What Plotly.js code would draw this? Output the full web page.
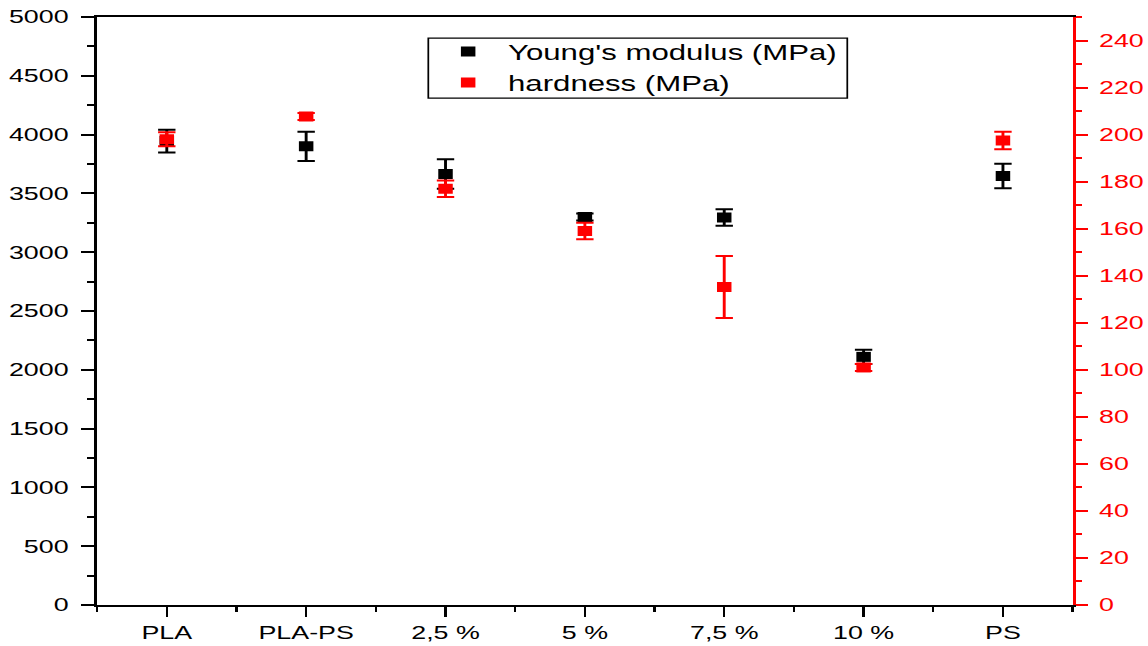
<!DOCTYPE html>
<html><head><meta charset="utf-8">
<script src="https://cdn.plot.ly/plotly-3.0.1.min.js"></script>
<style>
body{margin:0;background:#fff}
#wrap{width:1148px;height:646px;overflow:hidden;position:relative}
#chart{width:792px;height:646px;transform:scaleX(1.4495);transform-origin:0 0}
</style>
</head><body><div id="wrap"><div id="chart"></div></div>
<script>
const categories = ["PLA", "PLA-PS", "2,5 %", "5 %", "7,5 %", "10 %", "PS"];
const youngModulus = [3945, 3900, 3665, 3300, 3295, 2110, 3648];
const youngErr = [97, 125, 125, 30, 70, 60, 105];
const hardness = [198, 207.7, 177, 159, 135.2, 101, 197.5];
const hardnessErr = [3, 1.5, 3.5, 3.5, 13.2, 1.5, 3.7];

const xIdx = categories.map((c, i) => i);
const font = "Liberation Sans, Arial, sans-serif";

const traces = [
  {
    x: xIdx, y: youngModulus, type: "scatter", mode: "markers",
    name: "Young's modulus (MPa)",
    marker: {symbol: "square", size: 10, color: "#000"},
    error_y: {type: "data", array: youngErr, visible: true, color: "#000", thickness: 2, width: 6},
    yaxis: "y"
  },
  {
    x: xIdx, y: hardness, type: "scatter", mode: "markers",
    name: "hardness (MPa)",
    marker: {symbol: "square", size: 10, color: "#ff0000"},
    error_y: {type: "data", array: hardnessErr, visible: true, color: "#ff0000", thickness: 2, width: 6},
    yaxis: "y2"
  }
];

const layout = {
  width: 792, height: 646,
  margin: {l: 67, r: 52, t: 17, b: 41},
  paper_bgcolor: "#fff", plot_bgcolor: "#fff",
  font: {family: font, color: "#000", size: 18.5},
  showlegend: true,
  legend: {
    x: 0.3395, y: 0.976, xanchor: "left", yanchor: "top",
    borderwidth: 0, bgcolor: "rgba(0,0,0,0)",
    font: {family: font, size: 21.5, color: "#000"},
    itemwidth: 45, tracegroupgap: 0
  },
  shapes: [{
    type: "rect", xref: "paper", yref: "paper",
    x0: 0.3395, x1: 0.769, y0: 0.862, y1: 0.964,
    line: {color: "#000", width: 1.2}, fillcolor: "rgba(0,0,0,0)", layer: "above"
  }],
  xaxis: {
    range: [-0.5, 6.5],
    tickmode: "array", tickvals: xIdx, ticktext: categories,
    showgrid: false, zeroline: false,
    showline: true, linecolor: "#000", linewidth: 2, mirror: true,
    ticks: "outside", ticklen: 10, tickwidth: 1.6, tickcolor: "#000",
    tickfont: {family: font, size: 18.5, color: "#000"},
    minor: {tickmode: "linear", tick0: -0.5, dtick: 1, ticks: "outside", ticklen: 5, tickwidth: 1.6, tickcolor: "#000", showgrid: false}
  },
  yaxis: {
    range: [0, 5000], dtick: 500, tick0: 0,
    showgrid: false, zeroline: false,
    showline: true, linecolor: "#000", linewidth: 2,
    ticks: "outside", ticklen: 9, tickwidth: 2, tickcolor: "#000",
    ticklabelstandoff: 5,
    tickfont: {family: font, size: 18.5, color: "#000"},
    minor: {dtick: 250, ticks: "outside", ticklen: 5, tickwidth: 2, tickcolor: "#000", showgrid: false}
  },
  yaxis2: {
    overlaying: "y", side: "right",
    range: [0, 250], dtick: 20, tick0: 0,
    showgrid: false, zeroline: false,
    showline: true, linecolor: "#ff0000", linewidth: 2,
    ticks: "outside", ticklen: 8.5, tickwidth: 2, tickcolor: "#ff0000",
    ticklabelstandoff: 4,
    tickfont: {family: font, size: 18.5, color: "#ff0000"},
    minor: {dtick: 10, ticks: "outside", ticklen: 4.5, tickwidth: 2, tickcolor: "#ff0000", showgrid: false}
  }
};

Plotly.newPlot("chart", traces, layout, {displayModeBar: false, staticPlot: true});
</script>
</body></html>
